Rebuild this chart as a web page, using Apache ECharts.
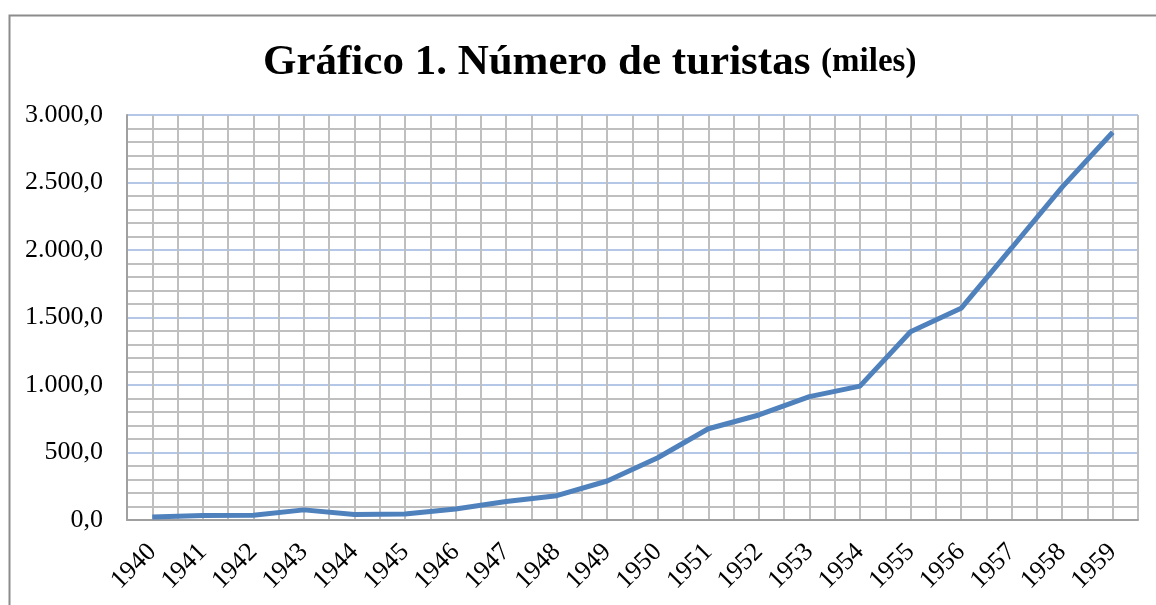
<!DOCTYPE html>
<html>
<head>
<meta charset="utf-8">
<script src="https://cdn.jsdelivr.net/npm/echarts@6/dist/echarts.min.js"></script>
<style>
    html, body { margin: 0; padding: 0; background: #fff; }
    #chart { width: 1156px; height: 605px; }
</style>
</head>
<body>
<div id="chart"></div>
<script>
// años y número de turistas (miles)
const years = ["1940", "1941", "1942", "1943", "1944", "1945", "1946", "1947", "1948", "1949",
    "1950", "1951", "1952", "1953", "1954", "1955", "1956", "1957", "1958", "1959"];
const tourists = [22, 33, 35, 75, 40, 45, 82, 137, 180, 289,
    461, 676, 778, 914, 992, 1395, 1568, 2015, 2466, 2872];

const FONT = "Liberation Serif";

// 3000 -> "3.000,0"
function fmt(v) {
    let s = Math.round(v).toString().replace(/\B(?=(\d{3})+(?!\d))/g, ".");
    return s + ",0";
}

var myChart = echarts.init(document.getElementById("chart"));
const option = {
    animation: false,
    backgroundColor: "#fff",
    title: {
        text: "Gráfico 1. Número de turistas {s|(miles)}",
        left: 258,
        top: 36,
        textStyle: {
            fontFamily: FONT,
            fontSize: 43,
            fontWeight: "bold",
            color: "#000",
            rich: {
                s: { fontFamily: FONT, fontSize: 33, fontWeight: "bold", color: "#000" }
            }
        }
    },
    graphic: [{
        //外框
        type: "rect",
        left: 7, top: 13,
        shape: { width: 1170, height: 620 },
        style: { fill: "none", stroke: "#8c8c8c", lineWidth: 2 },
        silent: true
    }],
    grid: { left: 127, right: 18, top: 115, bottom: 85 },
    xAxis: [{
        type: "category",
        data: years,
        boundaryGap: true,
        axisLine: { lineStyle: { color: "#a0a0a0", width: 2 } },
        axisTick: { show: false },
        splitLine: { show: false },
        axisLabel: {
            rotate: 45,
            interval: 0,
            margin: 28,
            fontFamily: FONT,
            fontSize: 26,
            color: "#000"
        }
    }, {
        // 竖向网格线
        type: "value",
        min: 0, max: 40, interval: 1,
        position: "bottom",
        show: true,
        axisLine: { show: false },
        axisTick: { show: false },
        axisLabel: { show: false },
        splitLine: { show: true, lineStyle: { color: "#bfbfbf", width: 2 } }
    }],
    yAxis: {
        type: "value",
        min: 0, max: 3000, interval: 500,
        axisLine: { show: true, lineStyle: { color: "#a0a0a0", width: 2 } },
        axisTick: { show: false },
        axisLabel: {
            formatter: fmt,
            margin: 24,
            fontFamily: FONT,
            fontSize: 26,
            color: "#000"
        },
        splitLine: { show: true, lineStyle: { color: "#b4c7e7", width: 2 } },
        minorTick: { show: false, splitNumber: 5 },
        minorSplitLine: { show: true, lineStyle: { color: "#bfbfbf", width: 2 } }
    },
    series: [{
        type: "line",
        xAxisIndex: 0,
        data: tourists,
        symbol: "none",
        z: 5,
        lineStyle: { color: "#4f81bd", width: 5 },
        itemStyle: { color: "#4f81bd" }
    }]
};
myChart.setOption(option);
</script>
</body>
</html>
